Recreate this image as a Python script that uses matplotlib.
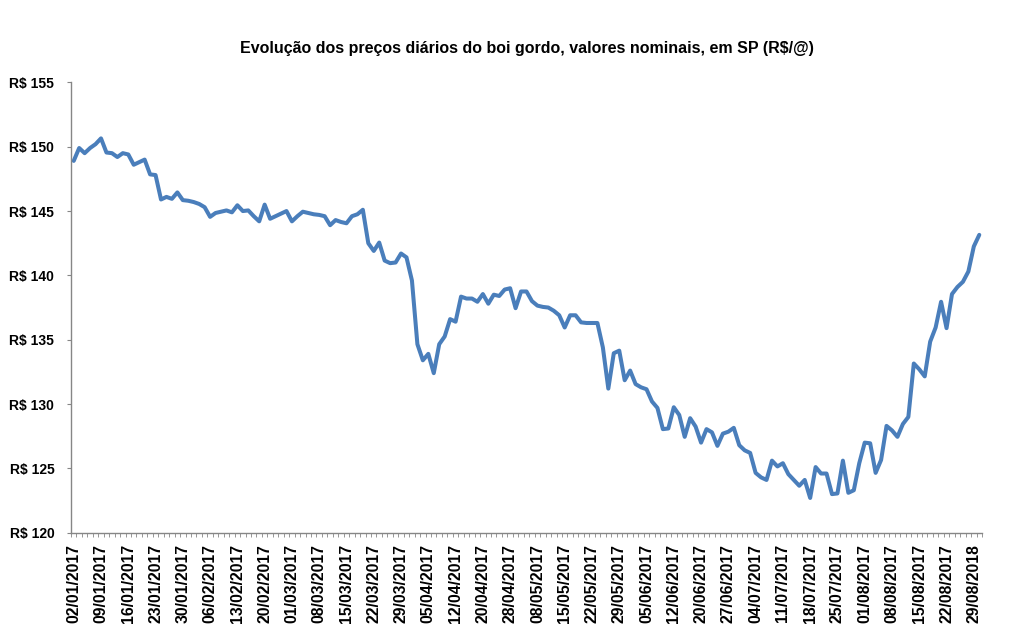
#!/usr/bin/env python3
import matplotlib
matplotlib.use("Agg")
import matplotlib.pyplot as plt
import numpy as np

# precos diarios (R$/@)
precos = [
    148.9, 149.9, 149.5, 149.9, 150.2, 150.65, 149.55, 149.5, 149.2, 149.5,
    149.4, 148.6, 148.8, 149.0, 147.85, 147.8, 145.9, 146.1, 145.95, 146.45,
    145.85, 145.8, 145.7, 145.55, 145.3, 144.55, 144.85, 144.95, 145.05, 144.9,
    145.45, 145.0, 145.05, 144.6, 144.2, 145.5, 144.4, 144.6, 144.8, 145.0,
    144.2, 144.6, 144.95, 144.85, 144.75, 144.7, 144.6, 143.9, 144.3, 144.15,
    144.05, 144.6, 144.75, 145.1, 142.5, 141.9, 142.55, 141.15, 140.95, 141.0,
    141.7, 141.4, 139.6, 134.65, 133.4, 133.9, 132.4, 134.65, 135.25, 136.6,
    136.4, 138.35, 138.2, 138.2, 137.95, 138.55, 137.8, 138.5, 138.4, 138.9,
    139.0, 137.45, 138.75, 138.75, 138.0, 137.65, 137.55, 137.5, 137.25, 136.9,
    135.95, 136.9, 136.9, 136.35, 136.3, 136.3, 136.3, 134.4, 131.2, 133.95,
    134.15, 131.85, 132.6, 131.55, 131.3, 131.15, 130.2, 129.7, 128.05, 128.1,
    129.75, 129.15, 127.45, 128.9, 128.25, 127.0, 128.05, 127.8, 126.75, 127.7,
    127.85, 128.15, 126.8, 126.4, 126.2, 124.65, 124.3, 124.1, 125.6, 125.15,
    125.4, 124.55, 124.1, 123.65, 124.1, 122.7, 125.1, 124.6, 124.6, 123.0,
    123.05, 125.6, 123.1, 123.3, 125.4, 127.0, 126.95, 124.65, 125.65, 128.3,
    127.95, 127.45, 128.45, 129.0, 133.15, 132.7, 132.15, 134.85, 135.95, 137.95,
    135.9, 138.55, 139.1, 139.5, 140.3, 142.25, 143.15,
]

# rotulos do eixo x (um a cada 5 dias uteis)
rotulos = [
    "02/01/2017", "09/01/2017", "16/01/2017", "23/01/2017", "30/01/2017",
    "06/02/2017", "13/02/2017", "20/02/2017", "01/03/2017", "08/03/2017",
    "15/03/2017", "22/03/2017", "29/03/2017", "05/04/2017", "12/04/2017",
    "20/04/2017", "28/04/2017", "08/05/2017", "15/05/2017", "22/05/2017",
    "29/05/2017", "05/06/2017", "12/06/2017", "20/06/2017", "27/06/2017",
    "04/07/2017", "11/07/2017", "18/07/2017", "25/07/2017", "01/08/2017",
    "08/08/2017", "15/08/2017", "22/08/2017", "29/08/2018",
]
passo = 5

yticks = [120, 125, 130, 135, 140, 145, 150, 155]
titulo = "Evolução dos preços diários do boi gordo, valores nominais, em SP (R$/@)"

fonte = "Liberation Sans"
cinza = "#868686"


def main():
    n = len(precos)
    x = np.arange(n)

    fig = plt.figure(figsize=(10.12, 6.31), dpi=100)
    ax = fig.add_axes([71 / 1012, 98.3 / 631, 911 / 1012, 450.3 / 631])

    ax.plot(x, precos, color="#4A7EBB", lw=2.9, solid_joinstyle="round",
            solid_capstyle="round")

    ax.set_xlim(-0.5, n - 0.5)
    ax.set_ylim(120, 155)

    ax.set_yticks(yticks)
    ax.set_yticklabels(["R$ %d" % v for v in yticks], fontfamily=fonte,
                       fontweight="bold", fontsize=10)
    ax.tick_params(axis="y", length=3, color=cinza, pad=9)

    pos = np.arange(0, n, passo)[:len(rotulos)]
    ax.set_xticks(pos)
    ax.set_xticklabels(rotulos, rotation=90, fontfamily=fonte,
                       fontweight="bold", fontsize=11.3)
    ax.tick_params(axis="x", which="major", length=0, pad=8)
    ax.set_xticks(np.arange(n + 1) - 0.5, minor=True)
    ax.tick_params(axis="x", which="minor", length=3, color=cinza, direction="out")

    for s in ["top", "right"]:
        ax.spines[s].set_visible(False)
    for s in ["left", "bottom"]:
        ax.spines[s].set_color(cinza)
        ax.spines[s].set_linewidth(1.0)

    fig.text((71 + 982) / 2 / 1012, 1 - 48 / 631, titulo, ha="center",
             va="center", fontfamily=fonte, fontweight="bold", fontsize=11.5)

    fig.savefig("out.png", dpi=100)


if __name__ == '__main__':
    main()
